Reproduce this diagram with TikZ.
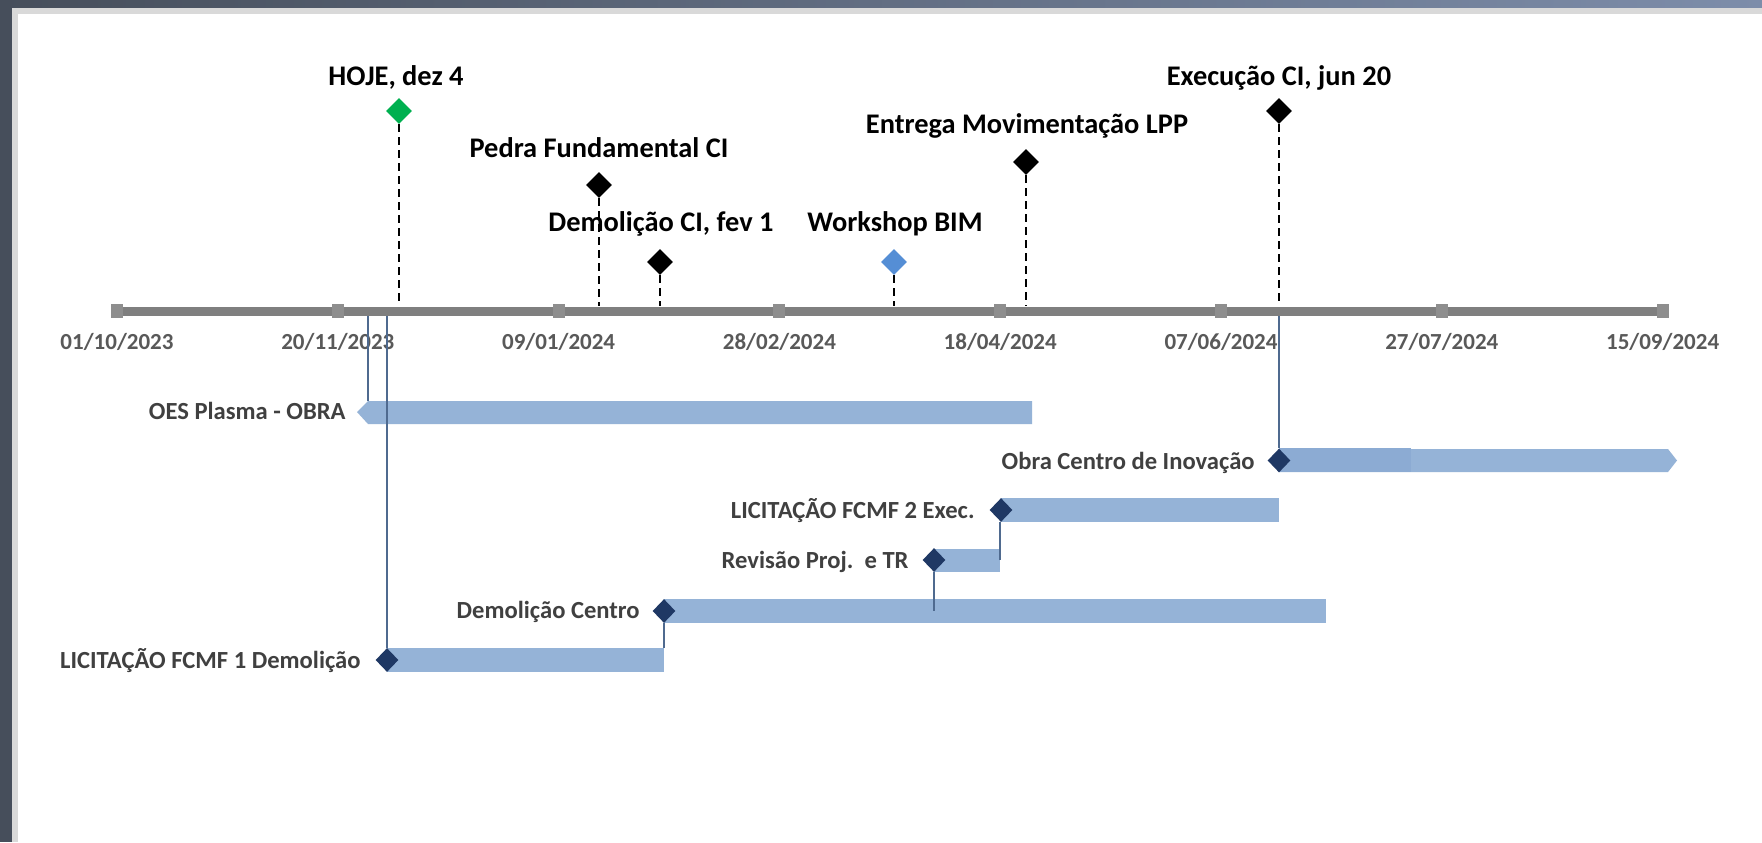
\documentclass[tikz,border=0pt]{standalone}
\usepackage{fontspec}
\setmainfont{Carlito}
\usetikzlibrary{shapes.geometric}
\definecolor{frameDark}{HTML}{464E5B}
\definecolor{frameTopR}{HTML}{7D8DAA}
\definecolor{borderGray}{HTML}{D9D9D9}
\definecolor{axisGray}{HTML}{7F7F7F}
\definecolor{tickGray}{HTML}{8E8E8E}
\definecolor{barBlue}{HTML}{95B3D7}
\definecolor{barBlueDark}{HTML}{8CABD3}
\definecolor{navy}{HTML}{1F3864}
\definecolor{msGreen}{HTML}{00B050}
\definecolor{msBlue}{HTML}{558ED5}
\definecolor{depLine}{HTML}{4F6A8F}
\definecolor{dateGray}{HTML}{595959}
\definecolor{taskGray}{HTML}{404040}
\begin{document}
\begin{tikzpicture}[x=0.5pt,y=-0.5pt,
  ms/.style={diamond, inner sep=0pt, minimum width=13pt, minimum height=13pt, fill=black},
  td/.style={diamond, inner sep=0pt, minimum width=11.5pt, minimum height=12pt, fill=navy},
  mlabel/.style={font=\fontsize{14.2}{16}\selectfont\bfseries, text=black, inner sep=0pt, anchor=base},
  dlabel/.style={font=\fontsize{11.5}{13}\selectfont\bfseries, text=dateGray, inner sep=0pt, anchor=base},
  tlabel/.style={font=\fontsize{12.3}{14}\selectfont\bfseries, text=taskGray, inner sep=0pt, anchor=base east},
  tickbox/.style={fill=tickGray, minimum width=6pt, minimum height=7pt, inner sep=0pt},
  dashline/.style={black, line width=0.6pt, dash pattern=on 4pt off 2.5pt},
  dep/.style={depLine, line width=0.55pt},
  bar/.style={fill=barBlue}
]
\useasboundingbox (0,0) rectangle (1762,842);
% frame
\fill[frameDark] (0,0) rectangle (1762,842);
\shade[left color=frameDark, right color=frameTopR] (0,0) rectangle (1762,8);
\fill[borderGray] (12,8) rectangle (1762,842);
\fill[white] (18,14) rectangle (1762,842);

% axis
\coordinate (a0) at (117,311);
\coordinate (a7) at (1663,311);
\draw[axisGray, line width=4.5pt] (a0) -- (a7);
\node[tickbox] (t0) at (117,311) {};
\node[tickbox] (t1) at (337.8,311) {};
\node[tickbox] (t2) at (558.6,311) {};
\node[tickbox] (t3) at (779.4,311) {};
\node[tickbox] (t4) at (1000.2,311) {};
\node[tickbox] (t5) at (1221,311) {};
\node[tickbox] (t6) at (1441.8,311) {};
\node[tickbox] (t7) at (1662.6,311) {};
\node[dlabel] (d0) at (117,349) {01/10/2023};
\node[dlabel] (d1) at (337.8,349) {20/11/2023};
\node[dlabel] (d2) at (558.6,349) {09/01/2024};
\node[dlabel] (d3) at (779.4,349) {28/02/2024};
\node[dlabel] (d4) at (1000.2,349) {18/04/2024};
\node[dlabel] (d5) at (1221,349) {07/06/2024};
\node[dlabel] (d6) at (1441.8,349) {27/07/2024};
\node[dlabel] (d7) at (1662.6,349) {15/09/2024};

% milestones
\node[ms, fill=msGreen] (m1) at (399,111) {};
\node[ms] (m2) at (599,185) {};
\node[ms] (m3) at (660,262) {};
\node[ms, fill=msBlue] (m4) at (894,262) {};
\node[ms] (m5) at (1026,162) {};
\node[ms] (m6) at (1279,111) {};
\coordinate (m1a) at (399,306);
\coordinate (m2a) at (599,306);
\coordinate (m3a) at (660,306);
\coordinate (m4a) at (894,306);
\coordinate (m5a) at (1026,306);
\coordinate (m6a) at (1279,306);
\draw[dashline] (m1.south) -- (m1a);
\draw[dashline] (m2.south) -- (m2a);
\draw[dashline] (m3.south) -- (m3a);
\draw[dashline] (m4.south) -- (m4a);
\draw[dashline] (m5.south) -- (m5a);
\draw[dashline] (m6.south) -- (m6a);
\node[mlabel] (l1) at (396,85) {HOJE, dez 4};
\node[mlabel] (l2) at (599,157) {Pedra Fundamental CI};
\node[mlabel] (l3) at (661,231) {Demolição CI, fev 1};
\node[mlabel] (l4) at (895,231) {Workshop BIM};
\node[mlabel] (l5) at (1027,133) {Entrega Movimentação LPP};
\node[mlabel] (l6) at (1279,85) {Execução CI, jun 20};

% task bars
\fill[bar] (357,412) -- (368,401) -- (1032,401) -- (1032,424) -- (368,424) -- cycle;
\coordinate (oesTop) at (368,401);
\fill[bar] (1279,449) -- (1668,449) -- (1677,460.5) -- (1668,472) -- (1279,472) -- cycle;
\fill[barBlueDark] (1279,448) rectangle (1411,472);
\fill[bar] (1001,498) rectangle (1279,522);
\fill[bar] (934,549) rectangle (1000,572);
\coordinate (rvEnd) at (1000,560);
\fill[bar] (664,599) rectangle (1326,623);
\coordinate (dcBar) at (934,611);
\fill[bar] (387,648) rectangle (664,672);
\coordinate (liEnd) at (664,648);

% task diamonds
\node[td] (od) at (1279,460.5) {};
\node[td] (lc2) at (1001,510) {};
\node[td] (rv) at (934,560) {};
\node[td] (dc) at (664,611) {};
\node[td] (lc1) at (387,660) {};

% dependency lines
\coordinate (ax1) at (368,316);
\coordinate (ax2) at (387,316);
\coordinate (ax6) at (1279,316);
\draw[dep] (ax1) -- (oesTop);
\draw[dep] (ax2) -- (lc1.north);
\draw[dep] (ax6) -- (od.north);
\draw[dep] (rv.south) -- (dcBar);
\draw[dep] (rvEnd) -- (rvEnd |- lc2.south);
\draw[dep] (liEnd) -- (dc.south);

% task labels
\node[tlabel] (ta) at (346,419) {OES Plasma - OBRA};
\node[tlabel] (tb) at (1255,469) {Obra Centro de Inovação};
\node[tlabel] (tc) at (975,518) {LICITAÇÃO FCMF 2 Exec.};
\node[tlabel] (td) at (909,568) {Revisão Proj.\ \ e TR};
\node[tlabel] (te) at (640,618) {Demolição Centro};
\node[tlabel] (tf) at (361,668) {LICITAÇÃO FCMF 1 Demolição};
\end{tikzpicture}
\end{document}
